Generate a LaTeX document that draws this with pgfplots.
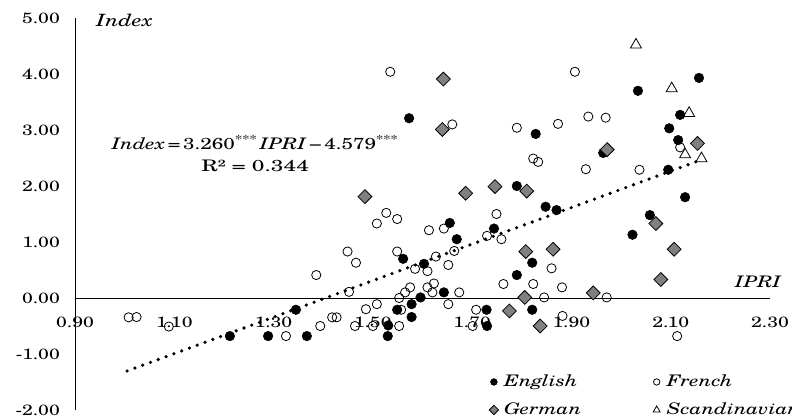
\documentclass[border=0pt]{standalone}
\usepackage{fontspec}
\setmainfont{TeX Gyre Schola}[FakeStretch=1.3]
\usepackage{pgfplots}
\pgfplotsset{compat=1.18}
\pgfplotsset{mylegend/.style={legend image code/.code={\draw[##1, mark size=#1] plot coordinates {(0cm,0cm)}; \path (-4bp,0bp) (8bp,0bp);}}}
\pgfplotstableread{
x y
1.212 -0.68
1.289 -0.68
1.345 -0.21
1.367 -0.68
1.530 -0.68
1.531 -0.49
1.549 -0.21
1.578 -0.34
1.578 -0.11
1.596 0.01
1.561 0.70
1.603 0.61
1.643 0.10
1.655 1.34
1.669 1.05
1.744 1.24
1.729 -0.21
1.730 -0.50
1.790 0.41
1.821 0.63
1.821 -0.21
1.790 2.00
1.848 1.63
1.870 1.57
1.828 2.93
1.573 3.21
1.964 2.59
2.023 1.13
2.058 1.48
2.129 1.80
2.095 2.29
2.115 2.82
2.097 3.03
2.119 3.27
2.034 3.70
2.157 3.93
}\english
\pgfplotstableread{
x y
1.008 -0.345
1.024 -0.34
1.089 -0.51
1.325 -0.68
1.386 0.41
1.394 -0.50
1.418 -0.345
1.427 -0.345
1.449 0.83
1.452 0.11
1.464 -0.50
1.466 0.63
1.486 -0.20
1.500 -0.50
1.508 -0.11
1.508 1.33
1.527 1.52
1.549 1.41
1.549 0.83
1.553 0.00
1.553 -0.50
1.557 -0.21
1.565 0.10
1.575 0.19
1.585 0.52
1.610 0.48
1.610 0.19
1.613 1.21
1.620 0.10
1.623 0.26
1.627 0.74
1.643 1.24
1.652 0.59
1.652 -0.11
1.664 0.84
1.674 0.10
1.701 -0.50
1.708 -0.21
1.730 1.11
1.749 1.50
1.759 1.05
1.763 0.25
1.823 0.25
1.845 0.01
1.860 0.53
1.881 0.19
1.882 -0.32
1.971 0.01
2.113 -0.68
1.535 4.04
1.660 3.10
1.790 3.04
1.823 2.49
1.833 2.43
1.873 3.11
1.907 4.04
1.934 3.24
1.969 3.22
1.929 2.30
2.037 2.29
2.119 2.69
}\french
\pgfplotstableread{
x y
1.484 1.81
1.687 1.87
1.746 1.99
1.810 1.91
1.642 3.91
1.640 3.01
1.775 -0.23
1.806 0.01
1.837 -0.50
1.808 0.83
1.863 0.87
1.944 0.09
1.972 2.65
2.070 1.33
2.107 0.87
2.080 0.33
2.154 2.76
}\german
\pgfplotstableread{
x y
2.030 4.52
2.102 3.74
2.137 3.30
2.129 2.56
2.162 2.49
}\scand
\begin{document}
\fontsize{15}{17}\selectfont
\begin{tikzpicture}
\begin{axis}[
  at={(0,0)}, anchor=south west,
  scale only axis, width=695bp, height=392bp,
  xmin=0.9, xmax=2.3, ymin=-2, ymax=5,
  axis y line=left, axis x line=middle,
  axis line style={-, line width=0.8bp},
  xtick={0.9,1.1,1.3,1.5,1.7,1.9,2.1,2.3},
  ytick={-2,-1,0,1,2,3,4,5},
  major tick length=0,
  hide obscured x ticks=false, hide obscured y ticks=false,
  xticklabel style={/pgf/number format/fixed, /pgf/number format/fixed zerofill, /pgf/number format/precision=2, /pgf/number format/assume math mode=true, anchor=north, yshift=-14bp, font=\fontsize{15}{17}\selectfont},
  yticklabel style={/pgf/number format/fixed, /pgf/number format/fixed zerofill, /pgf/number format/precision=2, /pgf/number format/assume math mode=true, anchor=east, xshift=-10bp, font=\fontsize{15}{17}\selectfont},
  clip=false,
  legend columns=2,
  legend cell align=left,
  legend style={draw=none, fill=none, at={(axis cs:1.728,-1.3)}, anchor=north west,
    font=\fontsize{16}{18}\selectfont\itshape, row sep=10bp,
    /tikz/every even column/.append style={column sep=69bp}},
]
\addplot[forget plot, black, line width=3.6bp, line cap=round, dash pattern=on 0bp off 8.3bp] coordinates {(1.005,-1.303) (2.151,2.433)};
\addplot[only marks, mark=*, mark size=4.8bp, mark options={fill=black, draw=black, line width=0.5bp}, mylegend=3.4bp] table[x=x,y=y] {\english};
\addlegendentry{English}
\addplot[only marks, mark=o, mark size=4.6bp, mark options={fill=white, draw=black, line width=0.8bp}, mylegend=3.2bp] table[x=x,y=y] {\french};
\addlegendentry{French}
\addplot[only marks, mark=square*, mark size=4.9bp, mark options={rotate=45, fill=black!50, draw=black, line width=0.8bp}, mylegend=3.3bp] table[x=x,y=y] {\german};
\addlegendentry{German}
\addplot[only marks, mark=triangle, mark size=6.4bp, mark options={draw=black, fill=white, line width=0.8bp}, mylegend=4bp] table[x=x,y=y] {\scand};
\addlegendentry{Scandinavian}
\node[font=\fontsize{17}{19}\selectfont\itshape] at (axis cs:1.000,4.95) {Index};
\node[font=\fontsize{16}{18}\selectfont\itshape] at (axis cs:2.276,0.29) {IPRI};
\node[align=center, font=\fontsize{16}{22}\selectfont] at (axis cs:1.263,2.575) {\textit{Index}\,=\,3.260\textsuperscript{***}\,\textit{IPRI}\,−\,4.579\textsuperscript{***}\\\scalebox{1.1}[1]{R² = 0.344}};
\end{axis}
\pgfresetboundingbox
\path[use as bounding box] (-75bp,-10bp) rectangle (717bp,410bp);
\end{tikzpicture}
\end{document}
